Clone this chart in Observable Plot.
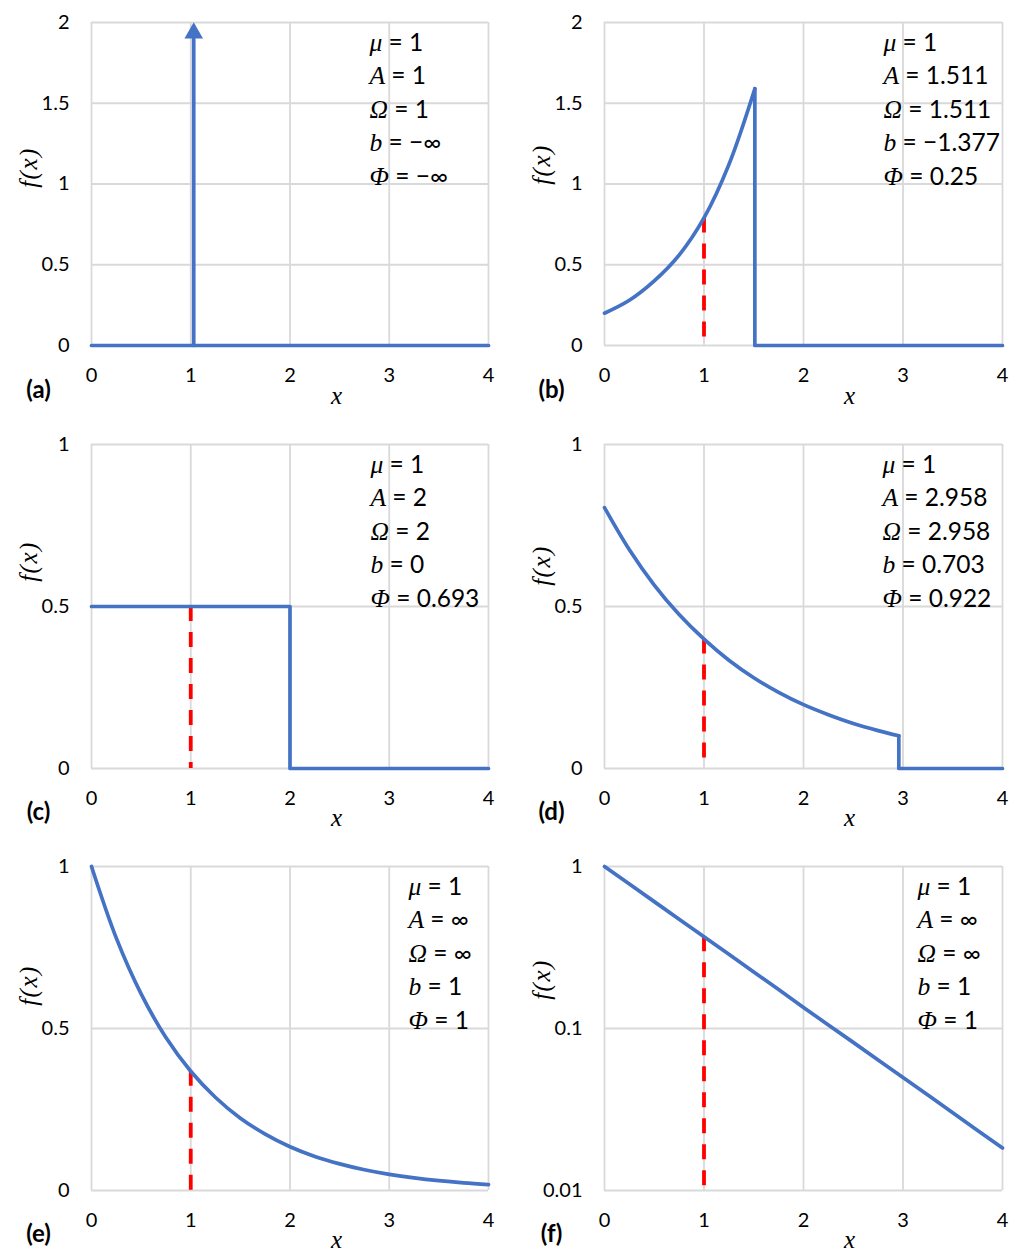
<!DOCTYPE html>
<html>
<head>
<meta charset="utf-8">
<script src="https://cdn.jsdelivr.net/npm/d3@7"></script>
<script src="https://cdn.jsdelivr.net/npm/@observablehq/plot@0.6"></script>
<style>
  html, body { margin: 0; padding: 0; background: #fff; overflow: hidden; }
  #root { position: relative; width: 1021px; height: 1250px; }
  .panel { position: absolute; }
</style>
</head>
<body>
<div id="root"></div>
<script>
// ---------- data ----------
const xTicks = [0, 1, 2, 3, 4];
const yTicksTwo = [0, 0.5, 1, 1.5, 2];
const yTicksOne = [0, 0.5, 1];
const yTicksLog = [0.01, 0.1, 1];

// (a) delta spike
const aBaseX = [0, 4];
const aBaseY = [0, 0];
const aSpikeX = [1.03, 1.03];
const aSpikeY = [0, 1.9];
const aTipX = [1.03];
const aTipY = [2];

// (b) increasing exponential, truncated
const bCurveX = [0, 0.25, 0.5, 0.75, 1, 1.25, 1.511];
const bCurveY = [0.20, 0.28, 0.40, 0.56, 0.79, 1.12, 1.59];
const bStepX = [1.511, 1.511, 4];
const bStepY = [1.59, 0, 0];
const bMeanTop = 0.79;

// (c) uniform
const cStepX = [0, 2, 2, 4];
const cStepY = [0.5, 0.5, 0, 0];
const cMeanTop = 0.5;

// (d) decreasing exponential, truncated
const dCurveX = [0, 0.25, 0.5, 0.75, 1, 1.25, 1.5, 1.75, 2, 2.25, 2.5, 2.75, 2.958];
const dCurveY = [0.805, 0.675, 0.566, 0.475, 0.399, 0.334, 0.280, 0.235, 0.197, 0.166, 0.139, 0.117, 0.101];
const dStepX = [2.958, 2.958, 4];
const dStepY = [0.101, 0, 0];
const dMeanTop = 0.40;

// (e), (f) exponential
const eCurveX = [0, 0.25, 0.5, 0.75, 1, 1.25, 1.5, 1.75, 2, 2.25, 2.5, 2.75, 3, 3.25, 3.5, 3.75, 4];
const eCurveY = [1, 0.779, 0.607, 0.472, 0.368, 0.287, 0.223, 0.174, 0.135, 0.105, 0.0821, 0.0639, 0.0498, 0.0388, 0.0302, 0.0235, 0.0183];
const eMeanTop = 0.368;

const meanX = 1;

// annotation text
const annSymbols = ["μ", "A", "Ω", "b", "Φ"];
const aVals = ["1", "1", "1", "−∞", "−∞"];
const bVals = ["1", "1.511", "1.511", "−1.377", "0.25"];
const cVals = ["1", "2", "2", "0", "0.693"];
const dVals = ["1", "2.958", "2.958", "0.703", "0.922"];
const eVals = ["1", "∞", "∞", "1", "1"];
const fVals = ["1", "∞", "∞", "1", "1"];

// ---------- helpers ----------
const BLUE = "#4472C4";
const RED = "#FF0000";
const GRID = "#d9d9d9";
const SANS = "Lato, 'Open Sans', sans-serif";
const SERIF = "'Liberation Serif', 'DejaVu Serif', serif";
const annBaselines = [50, 83.5, 117, 150.5, 184];
const pts = (xs, ys) => xs.map((x, i) => ({x, y: ys[i]}));

function blueLine(xs, ys, curve = "linear") {
  return Plot.line(pts(xs, ys), {x: "x", y: "y", stroke: BLUE, strokeWidth: 3.7, curve, strokeLinejoin: "round", strokeLinecap: "round"});
}
function meanRule(top, bottom) {
  return Plot.ruleX([meanX], {x: d => d, y1: top, y2: bottom, stroke: RED, strokeWidth: 3.8, strokeDasharray: "15,11"});
}
function label(str, opts) {
  return Plot.text([str], {text: d => d, frameAnchor: "top-left", fill: "#000", ...opts});
}

function panel(opts) {
  const {left, top, height, ml, mr, mb, yType, yDomain, yTicks, marks, vals, annDx, tag, fxY} = opts;
  const annMarks = annSymbols.map((s, i) =>
    label(`${s} = ${vals[i]}`, {dx: annDx, dy: annBaselines[i] - 22, lineAnchor: "bottom", textAnchor: "start", fontSize: 24.5, fontFamily: SANS})
  );
  const chart = Plot.plot({
    width: 510,
    height,
    marginLeft: ml,
    marginRight: mr,
    marginTop: 22,
    marginBottom: mb,
    style: {fontFamily: SANS, fontSize: "20px", color: "#000", background: "transparent", overflow: "visible"},
    x: {domain: [0, 4]},
    y: {type: yType, domain: yDomain},
    marks: [
      Plot.gridX(xTicks, {stroke: GRID, strokeOpacity: 1, strokeWidth: 1.8}),
      Plot.gridY(yTicks, {stroke: GRID, strokeOpacity: 1, strokeWidth: 1.8}),
      Plot.axisX(xTicks, {tickSize: 0, tickPadding: 22, fontSize: 20, label: null, tickFormat: d => String(d)}),
      Plot.axisY(yTicks, {tickSize: 0, tickPadding: 22, fontSize: 20, label: null, tickFormat: d => String(d)}),
      ...marks,
      ...annMarks,
      label(tag, {dx: -53, dy: 397 - 22, lineAnchor: "bottom", textAnchor: "middle", fontWeight: "bold", fontSize: 24, fontFamily: SANS}),
      label("x", {dx: 245, dy: 403 - 22, lineAnchor: "bottom", textAnchor: "middle", fontStyle: "italic", fontSize: 25, fontFamily: SERIF}),
      label("f(x)", {dx: -63, dy: fxY - 22, lineAnchor: "middle", textAnchor: "middle", rotate: -90, fontStyle: "italic", fontSize: 25, fontFamily: SERIF})
    ]
  });
  chart.querySelectorAll("text").forEach(t => {
    const s = t.textContent;
    if (s === "f(x)") { t.setAttribute("letter-spacing", "1.5"); return; }
    const i = s.indexOf(" = ");
    if (i < 0 || t.children.length) return;
    const sym = s.slice(0, i), rest = s.slice(i);
    t.textContent = "";
    const ts = document.createElementNS("http://www.w3.org/2000/svg", "tspan");
    ts.setAttribute("font-family", SERIF);
    ts.setAttribute("font-style", "italic");
    ts.setAttribute("font-size", "25.5");
    ts.textContent = sym;
    t.appendChild(ts);
    t.appendChild(document.createTextNode(rest));
  });
  const div = document.createElement("div");
  div.className = "panel";
  div.style.left = left + "px";
  div.style.top = top + "px";
  div.appendChild(chart);
  document.getElementById("root").appendChild(div);
}

// ---------- panels ----------
panel({
  left: 0, top: 0, height: 422, ml: 91, mr: 22, mb: 77,
  yType: "linear", yDomain: [0, 2], yTicks: yTicksTwo,
  marks: [
    blueLine(aBaseX, aBaseY),
    blueLine(aSpikeX, aSpikeY),
    Plot.dot(pts(aTipX, aTipY), {x: "x", y: "y", symbol: "triangle", r: 6.9, fill: BLUE, stroke: "none", dy: 10.6})
  ],
  vals: aVals, annDx: 278, tag: "(a)", fxY: 167
});

panel({
  left: 511, top: 0, height: 422, ml: 93, mr: 19, mb: 77,
  yType: "linear", yDomain: [0, 2], yTicks: yTicksTwo,
  marks: [
    meanRule(bMeanTop, 0),
    blueLine(bCurveX, bCurveY, "catmull-rom"),
    blueLine(bStepX, bStepY)
  ],
  vals: bVals, annDx: 279, tag: "(b)", fxY: 164
});

panel({
  left: 0, top: 422, height: 422, ml: 91, mr: 22, mb: 76,
  yType: "linear", yDomain: [0, 1], yTicks: yTicksOne,
  marks: [
    meanRule(cMeanTop, 0),
    blueLine(cStepX, cStepY)
  ],
  vals: cVals, annDx: 279, tag: "(c)", fxY: 139
});

panel({
  left: 511, top: 422, height: 422, ml: 93, mr: 19, mb: 76,
  yType: "linear", yDomain: [0, 1], yTicks: yTicksOne,
  marks: [
    meanRule(dMeanTop, 0),
    blueLine(dCurveX, dCurveY, "catmull-rom"),
    blueLine(dStepX, dStepY)
  ],
  vals: dVals, annDx: 278, tag: "(d)", fxY: 143
});

panel({
  left: 0, top: 844, height: 406, ml: 91, mr: 22, mb: 60,
  yType: "linear", yDomain: [0, 1], yTicks: yTicksOne,
  marks: [
    meanRule(eMeanTop, 0),
    blueLine(eCurveX, eCurveY, "catmull-rom")
  ],
  vals: eVals, annDx: 317, tag: "(e)", fxY: 141
});

panel({
  left: 511, top: 844, height: 406, ml: 93, mr: 19, mb: 60,
  yType: "log", yDomain: [0.01, 1], yTicks: yTicksLog,
  marks: [
    meanRule(eMeanTop, 0.01),
    blueLine(eCurveX, eCurveY)
  ],
  vals: fVals, annDx: 313, tag: "(f)", fxY: 135
});
</script>
</body>
</html>
